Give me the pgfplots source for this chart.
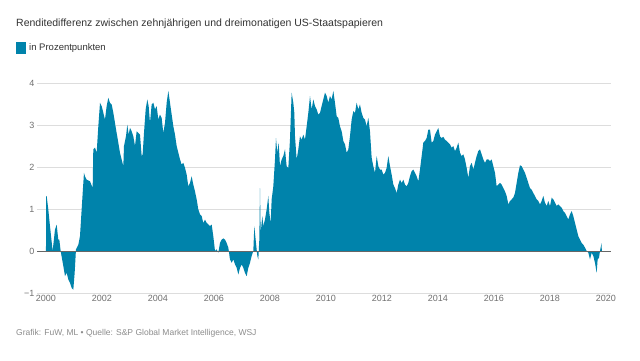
\documentclass[border=0pt]{standalone}
\usepackage{pgfplots}
\usepackage{pgfplotstable}
\pgfplotsset{compat=1.18}
\usepackage{fontspec}
\setmainfont{Liberation Sans}
\definecolor{fillc}{HTML}{0083AB}
\definecolor{gridc}{HTML}{DDDDDD}
\definecolor{tickc}{HTML}{707070}
\definecolor{titlec}{HTML}{333333}
\definecolor{footc}{HTML}{8C8C8C}
\definecolor{zeroc}{HTML}{666666}
\pgfplotstableread{
t v
0.000 0
0.005 1.30
0.024 1.31
0.083 0.99
0.143 0.59
0.238 0.00
0.321 0.51
0.381 0.63
0.440 0.27
0.476 0.27
0.524 0.00
0.619 -0.36
0.679 -0.60
0.738 -0.52
0.798 -0.68
0.857 -0.76
0.917 -0.88
0.976 -0.92
1.024 -0.52
1.071 0.04
1.155 0.15
1.214 0.35
1.274 0.99
1.310 1.38
1.357 1.86
1.393 1.78
1.452 1.70
1.571 1.66
1.667 1.50
1.690 2.42
1.750 2.46
1.810 2.34
1.869 2.97
1.929 3.53
1.988 3.45
2.048 3.29
2.107 3.13
2.167 3.45
2.226 3.65
2.286 3.53
2.345 3.49
2.405 3.29
2.464 3.05
2.524 2.81
2.583 2.58
2.643 2.34
2.702 2.18
2.762 2.02
2.786 2.50
2.857 2.73
2.905 3.01
2.952 2.77
3.000 2.93
3.060 2.85
3.119 2.73
3.179 2.50
3.238 2.85
3.298 2.81
3.357 2.77
3.417 2.26
3.452 2.30
3.500 2.81
3.560 3.37
3.619 3.61
3.667 3.45
3.714 3.05
3.774 3.49
3.833 3.53
3.893 3.37
3.952 3.45
4.012 3.13
4.071 3.25
4.131 3.17
4.190 2.81
4.250 3.05
4.310 3.53
4.369 3.81
4.429 3.53
4.488 3.25
4.548 2.97
4.607 2.77
4.667 2.50
4.726 2.34
4.786 2.18
4.845 2.06
4.905 2.10
4.964 1.98
5.024 1.82
5.083 1.54
5.143 1.62
5.202 1.78
5.262 1.58
5.321 1.42
5.381 1.23
5.440 0.99
5.500 0.87
5.560 0.83
5.619 0.67
5.679 0.75
5.738 0.67
5.798 0.63
5.857 0.59
5.917 0.63
5.976 0.35
6.036 0.00
6.095 0.04
6.155 -0.04
6.214 0.19
6.274 0.27
6.333 0.30
6.393 0.27
6.452 0.19
6.512 0.08
6.571 -0.20
6.631 -0.28
6.690 -0.20
6.750 -0.32
6.810 -0.40
6.869 -0.56
6.929 -0.40
6.988 -0.32
7.048 -0.40
7.107 -0.52
7.167 -0.60
7.226 -0.40
7.286 -0.28
7.345 -0.12
7.405 0.00
7.440 0.59
7.488 0.27
7.548 -0.12
7.583 -0.20
7.619 0.27
7.643 1.50
7.667 0.43
7.726 0.83
7.762 0.59
7.821 0.75
7.881 0.99
7.940 1.31
7.976 0.91
8.024 0.67
8.060 1.23
8.119 1.54
8.179 2.18
8.214 2.69
8.262 2.34
8.310 2.58
8.357 2.02
8.417 2.18
8.476 2.26
8.536 2.42
8.595 2.02
8.655 1.98
8.714 2.65
8.774 3.77
8.833 3.53
8.869 3.29
8.893 2.73
8.952 2.18
9.012 2.42
9.071 2.73
9.131 2.65
9.190 2.77
9.250 2.65
9.310 2.97
9.369 3.29
9.429 3.69
9.488 3.37
9.548 3.61
9.607 3.45
9.667 3.37
9.726 3.25
9.786 3.29
9.845 3.45
9.905 3.61
9.964 3.77
10.024 3.69
10.083 3.53
10.143 3.69
10.202 3.61
10.262 3.81
10.321 3.53
10.381 3.21
10.440 3.17
10.500 2.97
10.560 2.85
10.619 2.62
10.679 2.54
10.738 2.34
10.798 2.42
10.857 2.73
10.917 3.13
10.976 3.33
11.036 3.29
11.095 3.53
11.155 3.37
11.214 3.49
11.274 3.29
11.333 3.17
11.393 3.13
11.452 2.97
11.512 3.17
11.571 2.85
11.631 2.22
11.690 2.02
11.750 1.86
11.810 2.26
11.869 2.02
11.929 1.94
11.988 1.94
12.048 1.82
12.107 1.86
12.167 1.98
12.226 2.26
12.286 2.02
12.345 1.82
12.405 1.58
12.464 1.50
12.524 1.38
12.583 1.58
12.643 1.70
12.702 1.62
12.762 1.70
12.821 1.58
12.881 1.54
12.940 1.62
13.000 1.78
13.060 1.90
13.119 1.94
13.179 1.86
13.238 1.78
13.298 1.66
13.357 1.94
13.417 2.26
13.476 2.58
13.536 2.62
13.595 2.69
13.655 2.89
13.714 2.89
13.774 2.58
13.833 2.62
13.893 2.77
13.952 2.85
14.012 2.93
14.071 2.73
14.131 2.69
14.190 2.72
14.250 2.65
14.310 2.62
14.369 2.58
14.429 2.54
14.488 2.46
14.548 2.50
14.607 2.38
14.667 2.46
14.726 2.58
14.786 2.34
14.845 2.26
14.905 2.30
14.964 2.18
15.024 1.98
15.083 1.74
15.143 2.02
15.202 2.10
15.262 1.94
15.321 2.10
15.381 2.26
15.440 2.38
15.500 2.42
15.560 2.30
15.619 2.18
15.679 2.10
15.738 2.18
15.798 2.18
15.857 2.14
15.917 2.18
15.976 2.02
16.036 1.86
16.095 1.54
16.155 1.58
16.214 1.62
16.274 1.58
16.333 1.50
16.393 1.42
16.452 1.31
16.512 1.11
16.571 1.19
16.631 1.23
16.690 1.27
16.750 1.38
16.810 1.62
16.869 1.86
16.929 2.04
16.988 2.02
17.048 1.94
17.107 1.86
17.167 1.74
17.226 1.62
17.286 1.50
17.345 1.46
17.405 1.38
17.464 1.31
17.524 1.23
17.583 1.19
17.643 1.11
17.702 1.19
17.762 1.31
17.821 1.15
17.881 1.07
17.940 1.19
18.000 1.07
18.060 1.27
18.119 1.23
18.179 1.15
18.238 1.07
18.298 1.11
18.357 1.07
18.417 1.03
18.476 0.95
18.536 0.91
18.595 0.83
18.655 0.75
18.714 0.87
18.774 0.95
18.833 0.83
18.893 0.67
18.952 0.51
19.012 0.35
19.071 0.27
19.131 0.19
19.190 0.15
19.250 0.08
19.310 0.00
19.369 -0.04
19.429 -0.20
19.488 -0.04
19.548 -0.12
19.607 -0.28
19.667 -0.52
19.702 -0.20
19.750 -0.16
19.786 0.00
19.821 0.12
19.845 0.19
19.850 0
}\spread
\begin{document}
\begin{tikzpicture}
\path[use as bounding box, fill=white] (0pt,0pt) rectangle (640pt,360pt);
\node[anchor=west, text=titlec, font=\fontsize{10.5}{12}\selectfont, inner sep=0pt] at (16pt,336pt) {Renditedifferenz zwischen zehnjährigen und dreimonatigen US-Staatspapieren};
\fill[fillc] (16pt,306pt) rectangle (26pt,318pt);
\node[anchor=west, text=titlec, font=\fontsize{9.5}{11}\selectfont, inner sep=0pt] at (29pt,312pt) {in Prozentpunkten};
\node[anchor=west, text=footc, font=\fontsize{8.5}{10}\selectfont, inner sep=0pt] at (16pt,27pt) {Grafik: FuW, ML • Quelle: S\&P Global Market Intelligence, WSJ};
\begin{axis}[
  at={(37pt,67pt)}, anchor=south west, scale only axis,
  width=574pt, height=210pt,
  xmin=-0.321, xmax=20.179, ymin=-1, ymax=4,
  axis line style={draw=none},
  major tick length=0pt,
  ymajorgrids, grid style={gridc, line width=0.8pt},
  xtick={0,2,...,20},
  xticklabels={2000,2002,2004,2006,2008,2010,2012,2014,2016,2018,2020},
  ytick={-1,0,1,2,3,4},
  yticklabels={−1,0,1,2,3,4},
  tick label style={font=\fontsize{9}{10}\selectfont, text=tickc},
  yticklabel style={xshift=1pt},
  xticklabel style={yshift=1pt},
  clip=false,
]
\addplot[fill=fillc, draw=none] table[x=t,y=v] {\spread};
\addplot[zeroc, line width=0.8pt] coordinates {(-0.321,0) (20.179,0)};
\end{axis}
\end{tikzpicture}
\end{document}
